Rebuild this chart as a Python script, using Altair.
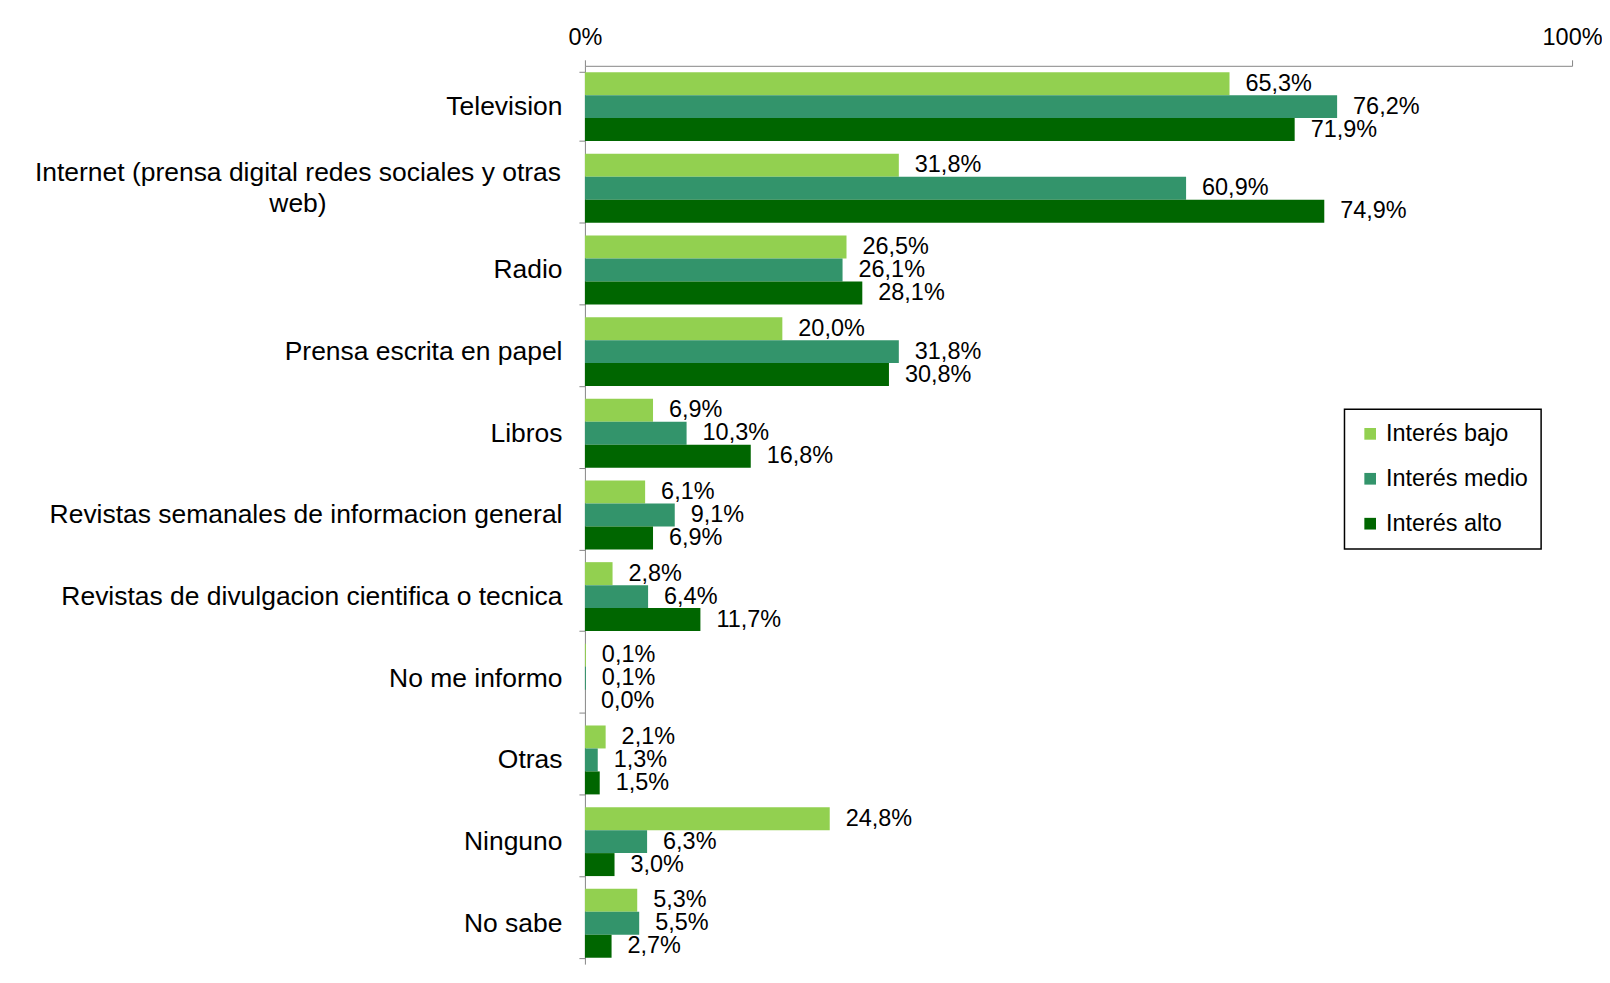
import altair as alt
import pandas as pd

categories = [
    "Television",
    "Internet (prensa digital redes sociales y otras web)",
    "Radio",
    "Prensa escrita en papel",
    "Libros",
    "Revistas semanales de informacion general",
    "Revistas de divulgacion cientifica o tecnica",
    "No me informo",
    "Otras",
    "Ninguno",
    "No sabe",
]
series = ["Interés bajo", "Interés medio", "Interés alto"]
bajo = [65.3, 31.8, 26.5, 20.0, 6.9, 6.1, 2.8, 0.1, 2.1, 24.8, 5.3]
medio = [76.2, 60.9, 26.1, 31.8, 10.3, 9.1, 6.4, 0.1, 1.3, 6.3, 5.5]
alto = [71.9, 74.9, 28.1, 30.8, 16.8, 6.9, 11.7, 0.0, 1.5, 3.0, 2.7]
colors = ["#92D050", "#33946B", "#006600"]
x_ticks = [0, 100]

rows = []
for s, vals in zip(series, [bajo, medio, alto]):
    for c, v in zip(categories, vals):
        rows.append({"cat": c, "serie": s, "val": v})
df = pd.DataFrame(rows)

FONT = "Liberation Sans"
long_label = "Internet (prensa digital redes sociales y otras web)"
is_long = "datum.value == '" + long_label + "'"

base = alt.Chart(df).transform_calculate(
    label="replace(format(datum.val, '.1f'), '.', ',') + '%'"
).encode(
    y=alt.Y(
        "cat:N",
        sort=categories,
        scale=alt.Scale(paddingInner=0.156, paddingOuter=0.078),
        axis=alt.Axis(
            title=None,
            labelFont=FONT,
            labelFontSize=26.5,
            labelColor="black",
            labelLimit=0,
            labelLineHeight=31,
            labelExpr=is_long.replace("datum.value", "datum.label")
            + " ? ['Internet (prensa digital redes sociales y otras', 'web)'] : datum.label",
            labelAlign={"condition": {"test": is_long, "value": "center"}, "value": "right"},
            labelPadding={"condition": {"test": is_long, "value": 282}, "value": 17},
            labelOffset={"condition": {"test": is_long, "value": -15.5}, "value": 0},
            domainColor="#868686",
            tickColor="#868686",
            tickSize=6,
            tickBand="extent",
        ),
    ),
    yOffset=alt.YOffset(
        "serie:N", sort=series, scale=alt.Scale(paddingInner=0, paddingOuter=0)
    ),
)

bars = base.mark_bar().encode(
    x=alt.X(
        "val:Q",
        scale=alt.Scale(domain=[0, 100]),
        axis=alt.Axis(
            orient="top",
            values=x_ticks,
            labelExpr="datum.value + '%'",
            title=None,
            grid=False,
            tickSize=6,
            domainColor="#868686",
            tickColor="#868686",
            labelFont=FONT,
            labelFontSize=23.5,
            labelColor="black",
            labelPadding=10,
            labelFlush=False,
        ),
    ),
    color=alt.Color(
        "serie:N",
        sort=series,
        scale=alt.Scale(domain=series, range=colors),
        legend=alt.Legend(
            title=None,
            orient="none",
            legendX=761,
            legendY=344,
            strokeColor="black",
            fillColor="white",
            padding=13,
            symbolType="square",
            symbolSize=137,
            symbolStrokeWidth=0,
            symbolOffset=1,
            labelOffset=4,
            labelExpr="datum.label + '\u00a0'",
            labelFont=FONT,
            labelFontSize=23.5,
            labelColor="black",
            rowPadding=20,
        ),
    ),
)

text = base.mark_text(
    align="left", baseline="middle", dx=16, font=FONT, fontSize=23.5, color="black"
).encode(x="val:Q", text="label:N")

chart = (
    alt.layer(bars, text)
    .properties(
        width=989,
        height=900,
        autosize=alt.AutoSizeParams(type="none"),
        padding={"left": 578, "top": 57, "right": 30, "bottom": 10},
        background="white",
    )
    .configure_view(stroke=None)
    .configure_legend(strokeWidth=1.5)
)

chart.save("out.html", embed_options={"renderer": "svg", "actions": False})
